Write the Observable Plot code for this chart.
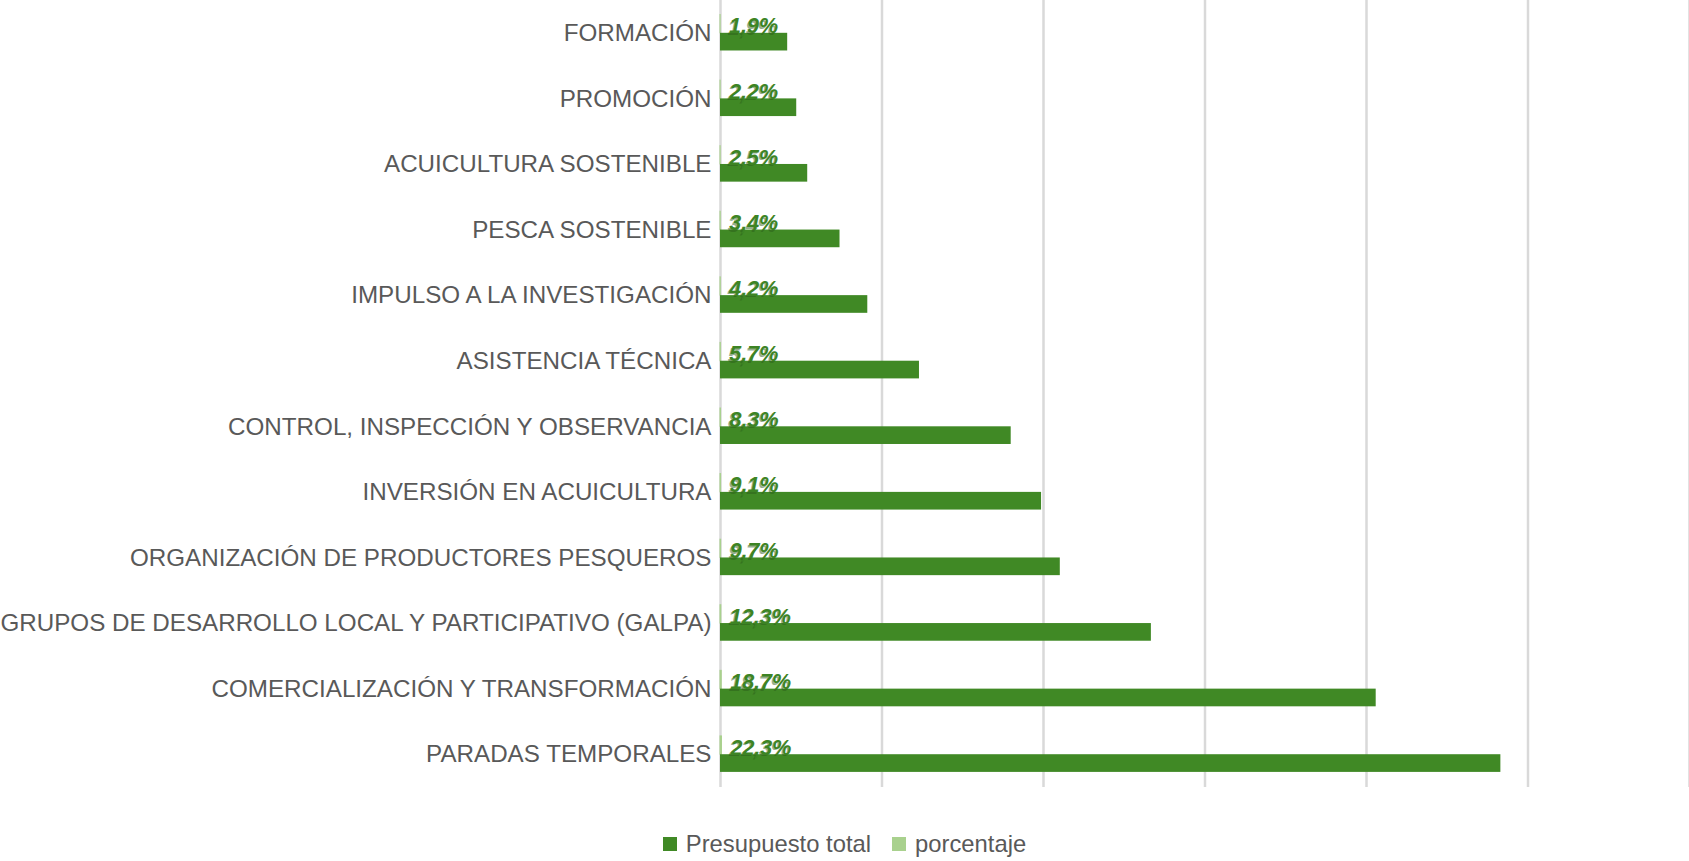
<!DOCTYPE html>
<html>
<head>
<meta charset="utf-8">
<script src="https://cdn.jsdelivr.net/npm/d3@7"></script>
<script src="https://cdn.jsdelivr.net/npm/@observablehq/plot@0.6"></script>
<style>
  html, body { margin: 0; padding: 0; background: #fff; }
  body { width: 1689px; height: 861px; overflow: hidden; font-family: "Liberation Sans", Arial, sans-serif; }
  #chart svg { display: block; }
  .legend { display: flex; justify-content: center; align-items: center; margin-top: 30px; font-size: 23.8px; color: #595959; line-height: 28px; }
  .legend .item { display: flex; align-items: center; }
  .legend .sw { width: 14px; height: 14px; display: inline-block; margin-right: 9px; }
  .legend .item + .item { margin-left: 21px; }
</style>
</head>
<body>
<div id="chart"></div>
<div class="legend" id="legend"></div>
<script>
// Categories, top to bottom
const categories = [
  "FORMACIÓN",
  "PROMOCIÓN",
  "ACUICULTURA SOSTENIBLE",
  "PESCA SOSTENIBLE",
  "IMPULSO A LA INVESTIGACIÓN",
  "ASISTENCIA TÉCNICA",
  "CONTROL, INSPECCIÓN Y OBSERVANCIA",
  "INVERSIÓN EN ACUICULTURA",
  "ORGANIZACIÓN DE PRODUCTORES PESQUEROS",
  "GRUPOS DE DESARROLLO LOCAL Y PARTICIPATIVO (GALPA)",
  "COMERCIALIZACIÓN Y TRANSFORMACIÓN",
  "PARADAS TEMPORALES"
];
// Presupuesto total (estimated, millions of euros; axis has no labels)
const presupuesto = [10.4, 11.8, 13.5, 18.5, 22.8, 30.8, 45.0, 49.7, 52.6, 66.7, 101.5, 120.8];
// porcentaje (fraction of total)
const porcentaje = [0.019, 0.022, 0.025, 0.034, 0.042, 0.057, 0.083, 0.091, 0.097, 0.123, 0.187, 0.223];
// gridline positions
const gridTicks = [0, 25, 50, 75, 100, 125, 150];
const seriesNames = ["Presupuesto total", "porcentaje"];
const seriesColors = ["#408925", "#a9d18e"];

const rows = categories.map((c, i) => ({
  cat: c,
  total: presupuesto[i],
  pct: porcentaje[i],
  label: (porcentaje[i] * 100).toFixed(1).replace(".", ",") + "%"
}));

const labelFont = { fontSize: 21.5, fontWeight: "bold", fontStyle: "italic", fontFamily: "Liberation Sans, Arial, sans-serif" };

const chart = Plot.plot({
  width: 1689,
  height: 800,
  marginLeft: 720,
  marginRight: 0,
  marginTop: 0,
  marginBottom: 13,
  x: { domain: [0, 150], axis: null },
  y: { domain: categories, padding: 0, round: false, axis: null },
  marks: [
    Plot.gridX(gridTicks, { stroke: "#d9d9d9", strokeOpacity: 1, strokeWidth: 2.5 }),
    Plot.barX(rows, { y: "cat", x1: 0, x2: "pct", fill: seriesColors[1], stroke: seriesColors[1], strokeWidth: 1, insetTop: 14.5, insetBottom: 32.8 }),
    Plot.barX(rows, { y: "cat", x1: 0, x2: "total", fill: seriesColors[0], insetTop: 32.8, insetBottom: 15.1 }),
    Plot.text(rows, { y: "cat", x: "pct", text: "label", textAnchor: "start", dx: 7, dy: -5.3,
      fill: "#2b5d19", fillOpacity: 0.5, ...labelFont }),
    Plot.text(rows, { y: "cat", x: "pct", text: "label", textAnchor: "start", dx: 8.5, dy: -6.8,
      fill: "#3d8424", ...labelFont }),
    Plot.axisY({ tickSize: 0, tickPadding: 9, fontSize: 24.2, color: "#595959", fontFamily: "Liberation Sans, Arial, sans-serif", label: null })
  ]
});
document.getElementById("chart").appendChild(chart);

const legend = document.getElementById("legend");
seriesNames.forEach((name, i) => {
  const item = document.createElement("span");
  item.className = "item";
  const sw = document.createElement("span");
  sw.className = "sw";
  sw.style.background = seriesColors[i];
  const t = document.createElement("span");
  t.textContent = name;
  item.appendChild(sw);
  item.appendChild(t);
  legend.appendChild(item);
});
</script>
</body>
</html>
